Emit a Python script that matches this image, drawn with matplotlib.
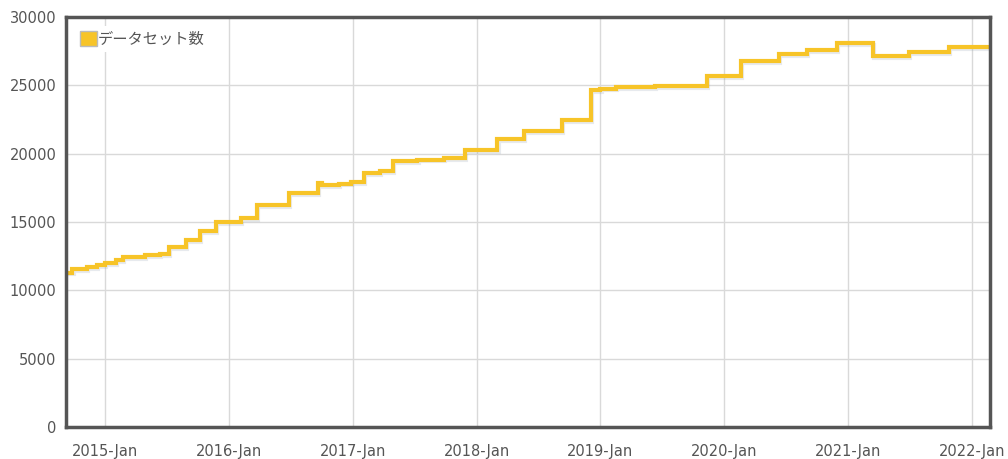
import numpy as np
import pandas as pd
import matplotlib
matplotlib.use('Agg')
import matplotlib.pyplot as plt
import matplotlib.dates as mdates
import matplotlib.patheffects as pe

# change dates of the step line and the count from that date on
dates = ['2014-09-08', '2014-09-26', '2014-11-07', '2014-12-07', '2015-01-01',
         '2015-02-01', '2015-02-22', '2015-04-28', '2015-06-12', '2015-07-07',
         '2015-08-28', '2015-10-06', '2015-11-23', '2016-02-05', '2016-03-24',
         '2016-06-26', '2016-09-20', '2016-10-01', '2016-11-20', '2016-12-25',
         '2017-02-03', '2017-03-20', '2017-04-28', '2017-07-10', '2017-09-25',
         '2017-11-28', '2018-03-03', '2018-05-21', '2018-09-10', '2018-12-04',
         '2019-01-01', '2019-02-16', '2019-06-10', '2019-11-11', '2020-02-20',
         '2020-06-10', '2020-09-01', '2020-11-28', '2021-03-15', '2021-06-29',
         '2021-10-25', '2022-02-28']
counts = [11300, 11550, 11700, 11850, 12000,
          12200, 12440, 12550, 12650, 13170,
          13680, 14340, 15000, 15290, 16240,
          17120, 17850, 17700, 17800, 17930,
          18580, 18700, 19460, 19560, 19650,
          20270, 21070, 21660, 22460, 24660,
          24750, 24880, 24950, 25680, 26780,
          27290, 27590, 28100, 27150, 27440,
          27800, 27800]
series_name = 'データセット数'
y_ticks = [0, 5000, 10000, 15000, 20000, 25000, 30000]

x = pd.to_datetime(dates)

fig = plt.figure(figsize=(10.08, 4.59), dpi=100)
ax = fig.add_axes([0.0655, 0.0697, 0.9165, 0.8933])

line_color = '#F7C428'
ax.plot(x, counts, drawstyle='steps-post', color=line_color, lw=3,
        label=series_name, solid_joinstyle='miter',
        path_effects=[pe.SimpleLineShadow(offset=(0.8, -1.2), shadow_color='#8899aa', alpha=0.2),
                      pe.Normal()])

ax.set_xlim(pd.Timestamp('2014-09-07'), pd.Timestamp('2022-02-23'))
ax.set_ylim(0, 30000)
ax.set_yticks(y_ticks)
ax.xaxis.set_major_locator(mdates.YearLocator(1, month=1, day=1))
ax.xaxis.set_major_formatter(mdates.DateFormatter('%Y-%b'))

ax.grid(True, color='#d9d9d9', lw=1)
ax.set_axisbelow(True)
for s in ax.spines.values():
    s.set_color('#555555')
    s.set_linewidth(2.5)

ax.tick_params(axis='both', length=0, labelsize=10.5, labelcolor='#555555')
ax.tick_params(axis='x', pad=12)
ax.tick_params(axis='y', pad=7)

handle = plt.Rectangle((0, 0), 1, 1, facecolor=line_color, edgecolor='#bbbbbb', lw=1)
leg = ax.legend([handle], [series_name], loc='upper left', frameon=True,
                handlelength=1.1, handleheight=1.1, handletextpad=0.1,
                borderaxespad=0.6, borderpad=0.3,
                prop={'family': ['Noto Sans CJK JP', 'DejaVu Sans'], 'size': 11})
leg.get_frame().set_edgecolor('none')
leg.get_frame().set_facecolor('white')
leg.get_frame().set_alpha(1)
for t in leg.get_texts():
    t.set_color('#555555')

fig.savefig('out.png', dpi=100)
